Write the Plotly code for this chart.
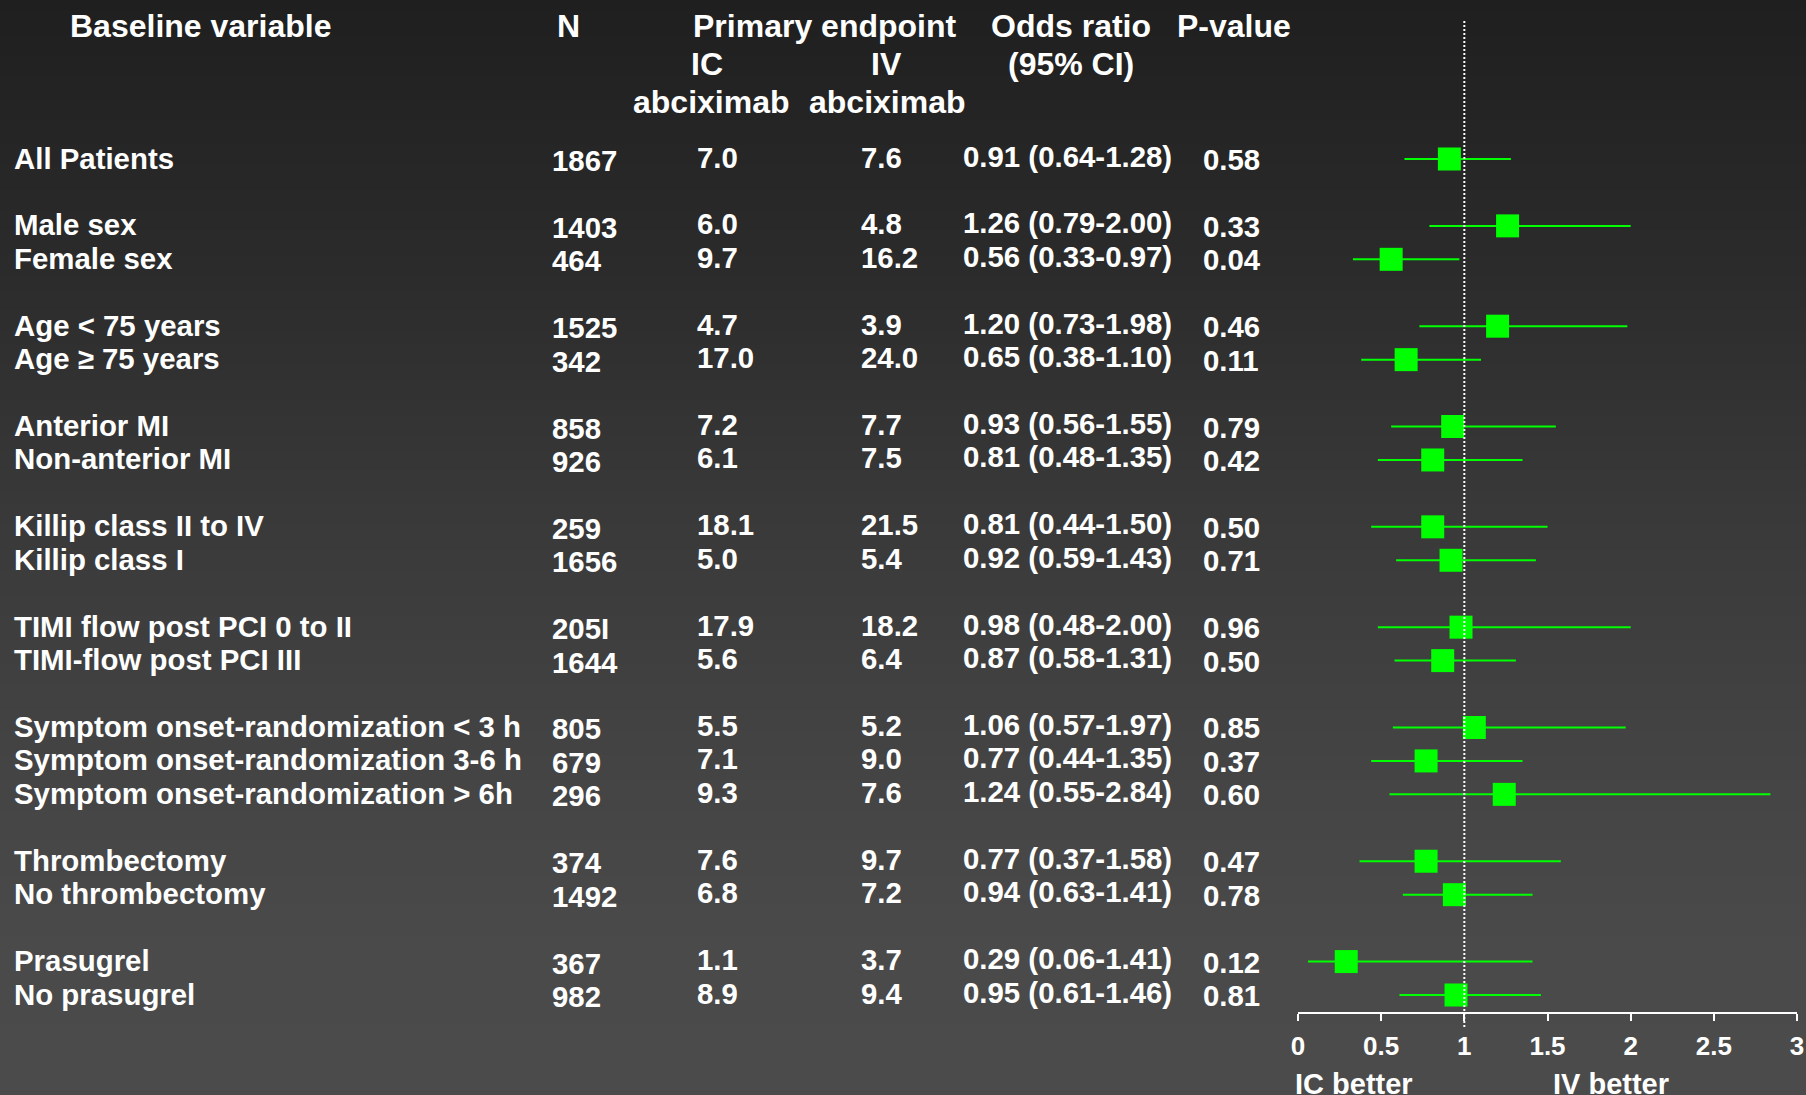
import plotly.graph_objects as go

# ---- data -------------------------------------------------------------
labels = [
    "All Patients",
    "Male sex", "Female sex",
    "Age < 75 years", "Age \u2265 75 years",
    "Anterior MI", "Non-anterior MI",
    "Killip class II to IV", "Killip class I",
    "TIMI flow post PCI 0 to II", "TIMI-flow post PCI III",
    "Symptom onset-randomization < 3 h",
    "Symptom onset-randomization 3-6 h",
    "Symptom onset-randomization > 6h",
    "Thrombectomy", "No thrombectomy",
    "Prasugrel", "No prasugrel",
]
group_sizes = [1, 2, 2, 2, 2, 2, 3, 2, 2]
n_patients = ["1867", "1403", "464", "1525", "342", "858", "926", "259", "1656",
              "205I", "1644", "805", "679", "296", "374", "1492", "367", "982"]
ic_rate = ["7.0", "6.0", "9.7", "4.7", "17.0", "7.2", "6.1", "18.1", "5.0",
           "17.9", "5.6", "5.5", "7.1", "9.3", "7.6", "6.8", "1.1", "8.9"]
iv_rate = ["7.6", "4.8", "16.2", "3.9", "24.0", "7.7", "7.5", "21.5", "5.4",
           "18.2", "6.4", "5.2", "9.0", "7.6", "9.7", "7.2", "3.7", "9.4"]
odds_ratio = [0.91, 1.26, 0.56, 1.20, 0.65, 0.93, 0.81, 0.81, 0.92,
              0.98, 0.87, 1.06, 0.77, 1.24, 0.77, 0.94, 0.29, 0.95]
ci_low = [0.64, 0.79, 0.33, 0.73, 0.38, 0.56, 0.48, 0.44, 0.59,
          0.48, 0.58, 0.57, 0.44, 0.55, 0.37, 0.63, 0.06, 0.61]
ci_high = [1.28, 2.00, 0.97, 1.98, 1.10, 1.55, 1.35, 1.50, 1.43,
           2.00, 1.31, 1.97, 1.35, 2.84, 1.58, 1.41, 1.41, 1.46]
p_values = ["0.58", "0.33", "0.04", "0.46", "0.11", "0.79", "0.42", "0.50", "0.71",
            "0.96", "0.50", "0.85", "0.37", "0.60", "0.47", "0.78", "0.12", "0.81"]
x_ticks = [0, 0.5, 1, 1.5, 2, 2.5, 3]

# ---- layout geometry ---------------------------------------------------
W, H = 1806, 1095
ROW0_PX = 159.0       # pixel centre of the first row
ROW_STEP = 33.44      # pixel height of one row slot
AXIS_PX = 1012.0      # pixel position of the x-axis line
PLOT_X0, PLOT_X1 = 1298.0, 1797.0

FONT = "Liberation Sans, Arial, sans-serif"
WHITE = "#ffffff"
GREEN = "#00ff00"


def px_x(px):
    return px / W


def px_y(py):
    return 1 - py / H


# row slots: consecutive rows inside a group, one empty slot between groups
rows = []
slot = 0
for size in group_sizes:
    for _ in range(size):
        rows.append(slot)
        slot += 1
    slot += 1

fig = go.Figure()

# forest plot: squares with CI whiskers
fig.add_trace(go.Scatter(
    x=odds_ratio,
    y=rows,
    mode="markers",
    marker=dict(symbol="square", size=23, color=GREEN, line=dict(width=0)),
    error_x=dict(
        type="data",
        symmetric=False,
        array=[h - o for h, o in zip(ci_high, odds_ratio)],
        arrayminus=[o - l for o, l in zip(odds_ratio, ci_low)],
        color=GREEN,
        thickness=2,
        width=0,
    ),
    hoverinfo="skip",
    showlegend=False,
    cliponaxis=False,
))

# vertical gradient background
shapes = []
stops = [(0, 31), (265, 43), (515, 57), (765, 68), (950, 74), (1095, 75)]


def shade(py):
    for (a, ca), (b, cb) in zip(stops[:-1], stops[1:]):
        if a <= py <= b:
            return ca + (cb - ca) * (py - a) / (b - a)
    return stops[-1][1]


band = 5
for top in range(0, H, band):
    v = int(round(shade(top + band / 2)))
    shapes.append(dict(
        type="rect", xref="paper", yref="paper",
        x0=0, x1=1, y0=px_y(min(top + band, H)), y1=px_y(top),
        fillcolor=f"rgb({v},{v},{v})", line=dict(width=0), layer="below",
    ))

# dotted reference line at OR = 1
shapes.append(dict(
    type="line", xref="x", yref="paper",
    x0=1, x1=1, y0=px_y(21), y1=px_y(1027),
    line=dict(color=WHITE, width=2, dash="2px,2px"),
    layer="above",
))

annotations = []


def add_text(text, x_px, y, size, xanchor="left", yref="y", yshift=0):
    annotations.append(dict(
        text=text, x=px_x(x_px), y=y, xref="paper", yref=yref,
        xanchor=xanchor, yanchor="middle", showarrow=False, yshift=yshift,
        borderpad=0,
        font=dict(family=FONT, size=size, color=WHITE, weight="bold"),
    ))


# column headers
HDR = 32
add_text("Baseline variable", 200, px_y(26), HDR, "center", "paper")
add_text("N", 568, px_y(26), HDR, "center", "paper")
add_text("Primary endpoint", 825, px_y(26), HDR, "center", "paper")
add_text("IC", 707, px_y(64), HDR, "center", "paper")
add_text("IV", 886, px_y(64), HDR, "center", "paper")
add_text("abciximab", 711, px_y(102), HDR, "center", "paper")
add_text("abciximab", 887, px_y(102), HDR, "center", "paper")
add_text("Odds ratio", 1071, px_y(26), HDR, "center", "paper")
add_text("(95% CI)", 1071, px_y(64), HDR, "center", "paper")
add_text("P-value", 1234, px_y(26), HDR, "center", "paper")

# table body
ROW = 29.4
for i, r in enumerate(rows):
    add_text(labels[i], 13, r, ROW, yshift=1)
    add_text(n_patients[i], 551, r, ROW, yshift=-1.5)
    add_text(ic_rate[i], 696, r, ROW, yshift=2)
    add_text(iv_rate[i], 860, r, ROW, yshift=2)
    or_text = f"{odds_ratio[i]:.2f} ({ci_low[i]:.2f}-{ci_high[i]:.2f})"
    add_text(or_text, 962, r, ROW, yshift=3)
    add_text(p_values[i], 1202, r, ROW, yshift=-0.5)

# axis captions
add_text("IC better", 1294, px_y(1084), 29, "left", "paper")
add_text("IV better", 1552, px_y(1084), 29, "left", "paper")

fig.update_layout(
    width=W, height=H,
    margin=dict(l=0, r=0, t=0, b=0, autoexpand=False),
    paper_bgcolor="#333333",
    plot_bgcolor="rgba(0,0,0,0)",
    shapes=shapes,
    annotations=annotations,
    showlegend=False,
    xaxis=dict(
        domain=[px_x(PLOT_X0), px_x(PLOT_X1)],
        range=[0, 3],
        tickvals=x_ticks,
        ticktext=[f"{t:g}" for t in x_ticks],
        showline=True, linecolor=WHITE, linewidth=2,
        ticks="outside", ticklen=7, tickwidth=2, tickcolor=WHITE,
        tickfont=dict(family=FONT, size=26, color=WHITE, weight="bold"),
        ticklabeloverflow="allow",
        ticklabelstandoff=3,
        automargin=False,
        showgrid=False, zeroline=False, fixedrange=True,
    ),
    yaxis=dict(
        domain=[1 - AXIS_PX / H, 1],
        range=[(AXIS_PX - ROW0_PX) / ROW_STEP, -ROW0_PX / ROW_STEP],
        visible=False, fixedrange=True, automargin=False,
    ),
)

fig.write_html("out.html")
